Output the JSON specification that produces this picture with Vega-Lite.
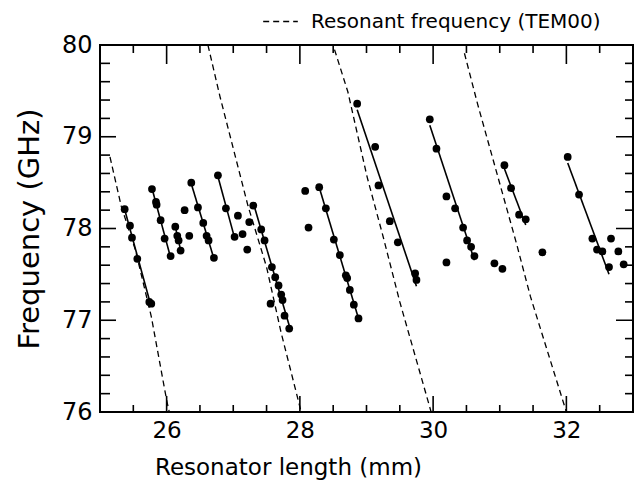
{
  "$schema": "https://vega.github.io/schema/vega-lite/v6.json",
  "width": 533,
  "height": 367,
  "autosize": {"type": "none"},
  "padding": {"left": 100, "top": 45, "right": 4, "bottom": 84},
  "background": "white",
  "config": {
    "view": {"stroke": "black", "strokeWidth": 2},
    "font": "DejaVu Sans",
    "axis": {"domain": false, "ticks": false, "grid": false, "labelColor": "black", "titleColor": "black", "titleFontWeight": "normal"}
  },
  "datasets": {
    "xticks": [{"v": 25.5}, {"v": 26}, {"v": 26.5}, {"v": 27}, {"v": 27.5}, {"v": 28}, {"v": 28.5}, {"v": 29}, {"v": 29.5}, {"v": 30}, {"v": 30.5}, {"v": 31}, {"v": 31.5}, {"v": 32}, {"v": 32.5}],
    "yticks": [{"v": 76.2}, {"v": 76.4}, {"v": 76.6}, {"v": 76.8}, {"v": 77}, {"v": 77.2}, {"v": 77.4}, {"v": 77.6}, {"v": 77.8}, {"v": 78}, {"v": 78.2}, {"v": 78.4}, {"v": 78.6}, {"v": 78.8}, {"v": 79}, {"v": 79.2}, {"v": 79.4}, {"v": 79.6}, {"v": 79.8}],
    "resonant": [
      {"curve": 1, "series": "Resonant frequency (TEM00)", "x": 25.15, "f": 78.78},
      {"curve": 1, "series": "Resonant frequency (TEM00)", "x": 25.32, "f": 78.24},
      {"curve": 1, "series": "Resonant frequency (TEM00)", "x": 25.53, "f": 77.77},
      {"curve": 1, "series": "Resonant frequency (TEM00)", "x": 25.77, "f": 77.04},
      {"curve": 1, "series": "Resonant frequency (TEM00)", "x": 26.0, "f": 76.13},
      {"curve": 1, "series": "Resonant frequency (TEM00)", "x": 26.04, "f": 76.0},
      {"curve": 2, "series": "Resonant frequency (TEM00)", "x": 26.62, "f": 80.0},
      {"curve": 2, "series": "Resonant frequency (TEM00)", "x": 26.8, "f": 79.44},
      {"curve": 2, "series": "Resonant frequency (TEM00)", "x": 27.22, "f": 78.25},
      {"curve": 2, "series": "Resonant frequency (TEM00)", "x": 27.5, "f": 77.58},
      {"curve": 2, "series": "Resonant frequency (TEM00)", "x": 27.72, "f": 76.86},
      {"curve": 2, "series": "Resonant frequency (TEM00)", "x": 28.02, "f": 76.0},
      {"curve": 3, "series": "Resonant frequency (TEM00)", "x": 28.52, "f": 79.95},
      {"curve": 3, "series": "Resonant frequency (TEM00)", "x": 28.72, "f": 79.49},
      {"curve": 3, "series": "Resonant frequency (TEM00)", "x": 29.01, "f": 78.56},
      {"curve": 3, "series": "Resonant frequency (TEM00)", "x": 29.25, "f": 77.91},
      {"curve": 3, "series": "Resonant frequency (TEM00)", "x": 29.5, "f": 77.2},
      {"curve": 3, "series": "Resonant frequency (TEM00)", "x": 29.97, "f": 76.0},
      {"curve": 4, "series": "Resonant frequency (TEM00)", "x": 30.47, "f": 79.91},
      {"curve": 4, "series": "Resonant frequency (TEM00)", "x": 30.67, "f": 79.35},
      {"curve": 4, "series": "Resonant frequency (TEM00)", "x": 31.0, "f": 78.49},
      {"curve": 4, "series": "Resonant frequency (TEM00)", "x": 31.25, "f": 77.84},
      {"curve": 4, "series": "Resonant frequency (TEM00)", "x": 31.46, "f": 77.26},
      {"curve": 4, "series": "Resonant frequency (TEM00)", "x": 32.0, "f": 76.0}
    ],
    "meas": [
      {"g": "A", "x": 25.37, "f": 78.21}, {"g": "A", "x": 25.45, "f": 78.03}, {"g": "A", "x": 25.48, "f": 77.9}, {"g": "A", "x": 25.56, "f": 77.67}, {"g": "A", "x": 25.74, "f": 77.2}, {"g": "A", "x": 25.77, "f": 77.18},
      {"g": "B", "x": 25.78, "f": 78.43}, {"g": "B", "x": 25.84, "f": 78.29}, {"g": "B", "x": 25.85, "f": 78.26}, {"g": "B", "x": 25.91, "f": 78.09}, {"g": "B", "x": 25.97, "f": 77.89}, {"g": "B", "x": 26.06, "f": 77.7},
      {"g": "C", "x": 26.13, "f": 78.02}, {"g": "C", "x": 26.16, "f": 77.92}, {"g": "C", "x": 26.18, "f": 77.87}, {"g": "C", "x": 26.21, "f": 77.76},
      {"g": "D", "x": 26.37, "f": 78.5}, {"g": "D", "x": 26.47, "f": 78.23}, {"g": "D", "x": 26.55, "f": 78.06}, {"g": "D", "x": 26.6, "f": 77.92}, {"g": "D", "x": 26.63, "f": 77.87}, {"g": "D", "x": 26.71, "f": 77.68},
      {"g": "E", "x": 26.77, "f": 78.58}, {"g": "E", "x": 26.89, "f": 78.22}, {"g": "E", "x": 27.02, "f": 77.91},
      {"g": "F", "x": 27.3, "f": 78.25}, {"g": "F", "x": 27.42, "f": 77.99}, {"g": "F", "x": 27.47, "f": 77.87}, {"g": "F", "x": 27.58, "f": 77.58}, {"g": "F", "x": 27.63, "f": 77.47}, {"g": "F", "x": 27.68, "f": 77.38}, {"g": "F", "x": 27.72, "f": 77.28}, {"g": "F", "x": 27.74, "f": 77.22}, {"g": "F", "x": 27.77, "f": 77.05}, {"g": "F", "x": 27.84, "f": 76.91},
      {"g": "G", "x": 28.29, "f": 78.45}, {"g": "G", "x": 28.39, "f": 78.22}, {"g": "G", "x": 28.51, "f": 77.88}, {"g": "G", "x": 28.6, "f": 77.71}, {"g": "G", "x": 28.69, "f": 77.49}, {"g": "G", "x": 28.71, "f": 77.46}, {"g": "G", "x": 28.75, "f": 77.33}, {"g": "G", "x": 28.81, "f": 77.17}, {"g": "G", "x": 28.88, "f": 77.02},
      {"g": "H", "x": 28.86, "f": 79.36}, {"g": "H", "x": 29.13, "f": 78.89}, {"g": "H", "x": 29.18, "f": 78.47}, {"g": "H", "x": 29.35, "f": 78.08}, {"g": "H", "x": 29.47, "f": 77.85}, {"g": "H", "x": 29.73, "f": 77.51}, {"g": "H", "x": 29.75, "f": 77.44},
      {"g": "I", "x": 29.95, "f": 79.19}, {"g": "I", "x": 30.05, "f": 78.87}, {"g": "I", "x": 30.33, "f": 78.22}, {"g": "I", "x": 30.45, "f": 78.01}, {"g": "I", "x": 30.51, "f": 77.87}, {"g": "I", "x": 30.57, "f": 77.8}, {"g": "I", "x": 30.62, "f": 77.7},
      {"g": "J", "x": 31.07, "f": 78.69}, {"g": "J", "x": 31.17, "f": 78.44}, {"g": "J", "x": 31.29, "f": 78.15}, {"g": "J", "x": 31.39, "f": 78.1},
      {"g": "K", "x": 32.02, "f": 78.78}, {"g": "K", "x": 32.19, "f": 78.37}, {"g": "K", "x": 32.39, "f": 77.89}, {"g": "K", "x": 32.46, "f": 77.77}, {"g": "K", "x": 32.54, "f": 77.75}, {"g": "K", "x": 32.64, "f": 77.58}
    ],
    "iso": [
      {"x": 26.27, "f": 78.2}, {"x": 26.34, "f": 77.92},
      {"x": 27.07, "f": 78.14}, {"x": 27.24, "f": 78.07}, {"x": 27.14, "f": 77.94}, {"x": 27.21, "f": 77.77},
      {"x": 27.56, "f": 77.18}, {"x": 28.08, "f": 78.41}, {"x": 28.13, "f": 78.01},
      {"x": 30.2, "f": 78.35}, {"x": 30.2, "f": 77.63},
      {"x": 30.92, "f": 77.62}, {"x": 31.04, "f": 77.56}, {"x": 31.64, "f": 77.74},
      {"x": 32.67, "f": 77.89}, {"x": 32.78, "f": 77.75}, {"x": 32.86, "f": 77.61}
    ]
  },
  "layer": [
    {
      "data": {"name": "resonant"},
      "mark": {"type": "line", "strokeWidth": 1.3, "clip": true, "color": "black"},
      "encoding": {
        "x": {"field": "x", "type": "quantitative", "scale": {"domain": [25, 33], "nice": false, "zero": false},
          "axis": {"orient": "bottom", "values": [26, 28, 30, 32],
            "format": "d", "labelFontSize": 23, "labelPadding": 7, "title": "Resonator length (mm)", "titleFontSize": 23, "titlePadding": 14, "titleX": 188}},
        "y": {"field": "f", "type": "quantitative", "scale": {"domain": [76, 80], "nice": false, "zero": false},
          "axis": {"orient": "left", "values": [76, 77, 78, 79, 80],
            "format": "d", "labelFontSize": 24, "labelPadding": 8, "title": "Frequency (GHz)", "titleFontSize": 29, "titlePadding": 17}},
        "detail": {"field": "curve", "type": "nominal"},
        "strokeDash": {"field": "series", "type": "nominal", "scale": {"range": [[6, 4]]},
          "legend": {"orient": "none", "legendX": 162, "legendY": -42, "title": null, "symbolType": "stroke", "symbolSize": 1200, "symbolStrokeWidth": 1.6, "symbolStrokeColor": "black", "labelFontSize": 20, "labelOffset": 12, "labelColor": "black", "labelLimit": 400}}
      }
    },
    {
      "data": {"name": "meas"},
      "transform": [{"regression": "f", "on": "x", "groupby": ["g"]}],
      "mark": {"type": "line", "strokeWidth": 1.6, "color": "black"},
      "encoding": {
        "x": {"field": "x", "type": "quantitative", "axis": null},
        "y": {"field": "f", "type": "quantitative", "axis": null},
        "detail": {"field": "g", "type": "nominal"}
      }
    },
    {
      "data": {"name": "meas"},
      "mark": {"type": "circle", "size": 60, "color": "black", "opacity": 1},
      "encoding": {
        "x": {"field": "x", "type": "quantitative", "axis": null},
        "y": {"field": "f", "type": "quantitative", "axis": null}
      }
    },
    {
      "data": {"name": "iso"},
      "mark": {"type": "circle", "size": 60, "color": "black", "opacity": 1},
      "encoding": {
        "x": {"field": "x", "type": "quantitative", "axis": null},
        "y": {"field": "f", "type": "quantitative", "axis": null}
      }
    },
    {
      "data": {"name": "xticks"},
      "mark": {"type": "tick", "orient": "vertical", "clip": true, "thickness": 1.6, "color": "black", "opacity": 1},
      "encoding": {
        "x": {"field": "v", "type": "quantitative", "axis": null},
        "y": {"datum": 76, "type": "quantitative", "axis": null},
        "size": {"condition": {"test": "datum.v % 2 === 0", "value": 32}, "value": 14}
      }
    },
    {
      "data": {"name": "xticks"},
      "mark": {"type": "tick", "orient": "vertical", "clip": true, "thickness": 1.6, "color": "black", "opacity": 1},
      "encoding": {
        "x": {"field": "v", "type": "quantitative", "axis": null},
        "y": {"datum": 80, "type": "quantitative", "axis": null},
        "size": {"condition": {"test": "datum.v % 2 === 0", "value": 38}, "value": 16}
      }
    },
    {
      "data": {"name": "yticks"},
      "mark": {"type": "tick", "orient": "horizontal", "clip": true, "thickness": 1.6, "color": "black", "opacity": 1},
      "encoding": {
        "y": {"field": "v", "type": "quantitative", "axis": null},
        "x": {"datum": 25, "type": "quantitative", "axis": null},
        "size": {"condition": {"test": "datum.v % 1 === 0", "value": 32}, "value": 20}
      }
    },
    {
      "data": {"name": "yticks"},
      "mark": {"type": "tick", "orient": "horizontal", "clip": true, "thickness": 1.6, "color": "black", "opacity": 1},
      "encoding": {
        "y": {"field": "v", "type": "quantitative", "axis": null},
        "x": {"datum": 33, "type": "quantitative", "axis": null},
        "size": {"condition": {"test": "datum.v % 1 === 0", "value": 34}, "value": 16}
      }
    }
  ],
  "resolve": {"axis": {"x": "independent", "y": "independent"}}
}
